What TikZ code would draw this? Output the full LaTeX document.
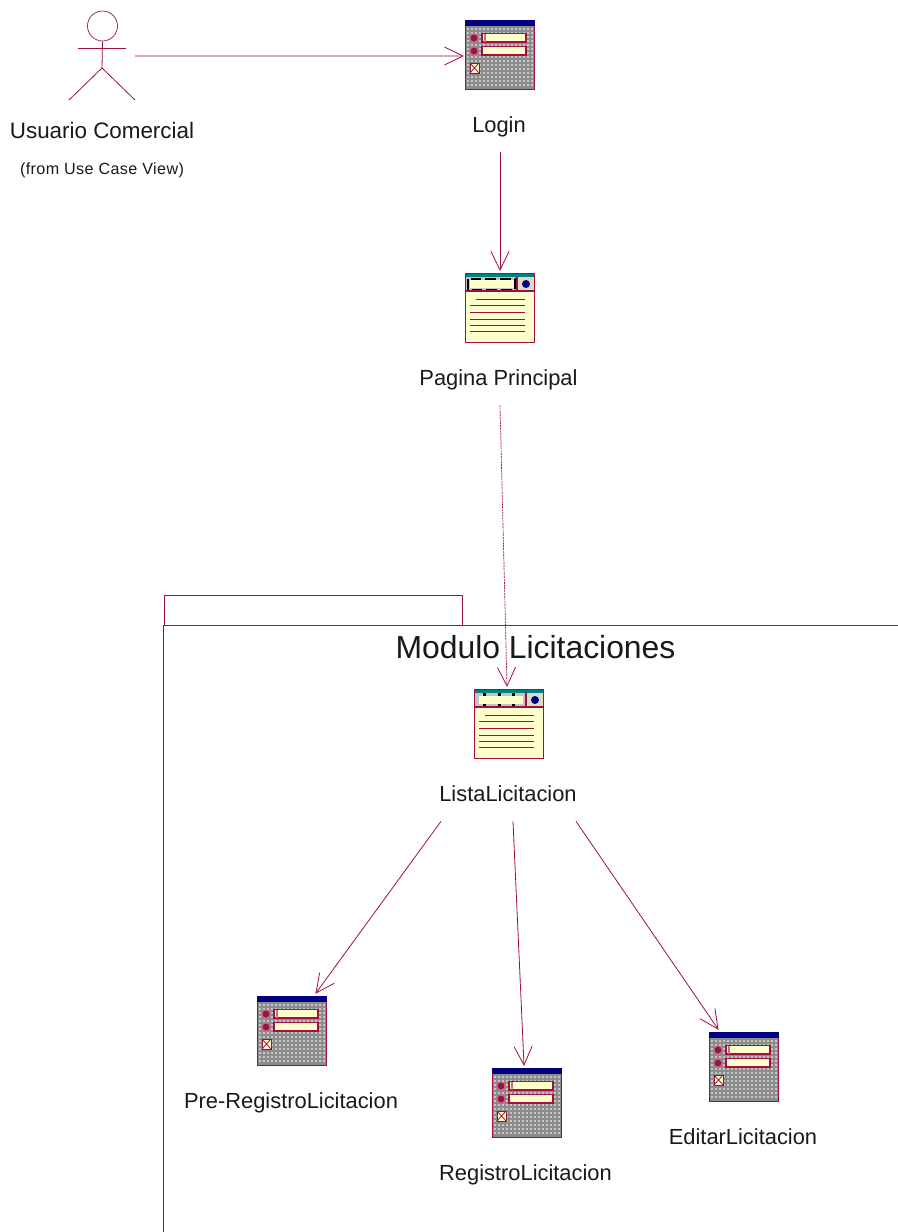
\documentclass[tikz,border=0pt]{standalone}
\usepackage{fontspec}
\setmainfont{Liberation Sans}
\newfontfamily\smallspaced[LetterSpace=2.5]{Liberation Sans}
\usetikzlibrary{arrows.meta}
\definecolor{rose}{HTML}{A00F3F}
\definecolor{cream}{HTML}{FFFFCC}
\definecolor{navyb}{HTML}{000080}
\definecolor{tealb}{HTML}{008080}
\definecolor{gridd}{HTML}{8C8C8C}
\definecolor{gridl}{HTML}{C6C6C6}
\definecolor{headg}{HTML}{C4C4C4}
\definecolor{ringc}{HTML}{C86A8A}
\pgfdeclarearrow{
  name=OpenVee,
  setup code={\pgfarrowssettipend{0pt}\pgfarrowssetlineend{-0.4pt}\pgfarrowssetvisualbackend{-14pt}\pgfarrowssetbackend{-14pt}\pgfarrowshullpoint{0pt}{0pt}\pgfarrowshullpoint{-14pt}{6.8pt}\pgfarrowshullpoint{-14pt}{-6.8pt}},
  drawing code={\pgfsetdash{}{0pt}\pgfsetlinewidth{0.6pt}\pgfsetmiterjoin\pgfpathmoveto{\pgfqpoint{-14pt}{6.8pt}}\pgfpathlineto{\pgfqpoint{0pt}{0pt}}\pgfpathlineto{\pgfqpoint{-14pt}{-6.8pt}}\pgfusepathqstroke},
}
\tikzset{
  x=0.75pt,y=-0.75pt,
  line/.style={draw=rose,line width=0.6pt},
  edge/.style={line,-OpenVee},
  lbl/.style={font=\fontsize{16.4}{20}\selectfont,text=black!90,inner sep=0pt,anchor=center},
  iconbox/.style={minimum width=52.5pt,minimum height=52.5pt,inner sep=0pt,outer sep=0pt,anchor=north west},
}
\newcommand{\formicon}[3]{%
  \node[iconbox] (#1) at (#2,#3) {};
  \begin{scope}[shift={(#2,#3)}]
    \fill[gridd] (0,0) rectangle (70,70);
    \foreach \i in {0,...,16}{\foreach \j in {2,...,16}{
      \fill[gridl] (2+4*\i,4*\j) rectangle ++(2.4,2.4);}}
    \fill[navyb] (0,0) rectangle (70,6);
    \draw[rose,line width=1pt] (0.4,6) -- (0.4,69.4) -- (69.6,69.4) -- (69.6,6);
    \foreach \yy in {18,31}{
      \fill[ringc] (9,\yy) circle (5);
      \fill[rose] (9,\yy) circle (3.4);
      \fill[black!75] (9,\yy) circle (1.3);}
    \draw[rose,fill=cream,line width=0.8pt] (17,13.5) rectangle (61,22);
    \draw[ringc,line width=0.8pt] (20,14) -- (20,22);
    \draw[rose,fill=cream,line width=0.8pt] (17,26.5) rectangle (61,35);
    \draw[rose,fill=cream,line width=0.7pt] (5,43) rectangle (14,53);
    \draw[rose,line width=0.6pt] (5,43) -- (14,53) (14,43) -- (5,53);
  \end{scope}}
% #4 header style 0: black dashed selected, 1: plain grey
\newcommand{\pageicon}[4]{%
  \node[iconbox] (#1) at (#2,#3) {};
  \begin{scope}[shift={(#2,#3)}]
    \fill[cream] (0,0) rectangle (70,70);
    \fill[headg] (0,3) rectangle (52,18);
    \fill[cream!40!headg] (52,3) rectangle (70,18);
    \fill[tealb] (0,1) rectangle (70,4);
    \fill[cream] (5,7) rectangle (49,15);
    \ifnum#4=0
      \draw[black,line width=1.5pt,dash pattern=on 8pt off 3pt] (3,6) rectangle (50,17);
    \else
      \foreach \xx in {9,24,38}{\fill[black] (\xx,4) rectangle ++(3,3);\fill[black] (\xx,15) rectangle ++(3,2);}
      \draw[black!70,line width=0.5pt] (1,17) -- (51,17);
    \fi
    \fill[navyb] (61,11) circle (4);
    \draw[rose,line width=1.2pt] (0.5,0.5) rectangle (69.5,69.5);
    \draw[rose,line width=0.9pt] (0,18) -- (70,18) (52,4) -- (52,18);
    \draw[rose,line width=0.6pt] (11,26) -- (60,26);
    \foreach \yy in {32,39,46,52,58}{\draw[rose,line width=0.6pt] (5,\yy) -- (60,\yy);}
  \end{scope}}
\begin{document}
\begin{tikzpicture}
\useasboundingbox (0,0) rectangle (898,1232);
\fill[white] (0,0) rectangle (898,1232);

% package
\draw[line] (164,625) -- (164,595) -- (462,595) -- (462,625);
\draw[line] (898,625) -- (163,625) -- (163,1232);
\node[lbl,font=\fontsize{23.9}{28}\selectfont] (modtitle) at (535.5,647) {Modulo Licitaciones};

% actor
\node[circle,draw=rose,line width=0.5pt,minimum size=22.5pt,inner sep=0pt] (head) at (102.5,26) {};
\coordinate (hip) at (102,68);
\draw[line] (head.south) -- (hip);
\draw[line] (78,48) -- (126,48);
\draw[line] (69,100) -- (hip) -- (135,100);
\node[lbl,font=\fontsize{16.8}{20}\selectfont] (actor) at (102,130.5) {Usuario Comercial};
\node[lbl,font=\smallspaced\fontsize{12.1}{15}\selectfont] (from) at (102,170.5) {(from Use Case View)};

% icons
\formicon{login}{465}{20}
\pageicon{principal}{465}{273}{0}
\pageicon{lista}{474}{689}{1}
\formicon{pre}{257}{996}
\formicon{registro}{492}{1068}
\formicon{editar}{709}{1032}

% labels
\node[lbl] (loginl) at (499,127) {Login};
\node[lbl] (principall) at (498.5,380) {Pagina Principal};
\node[lbl] (listal) at (508,794) {ListaLicitacion};
\node[lbl] (prel) at (291,1103) {Pre-RegistroLicitacion};
\node[lbl] (registrol) at (525.5,1175) {RegistroLicitacion};
\node[lbl] (editarl) at (743,1137) {EditarLicitacion};

% connectors
\draw[edge] (actor.north -| hip) ++(33,-66) coordinate (actorout) -- ([shift={(-2,36)}]login.north west);
\draw[edge] ([shift={(1,15)}]loginl.south) -- ([shift={(35,-3)}]principal.north west);
\draw[edge,line width=0.5pt,dash pattern=on 1.5pt off 0.6pt] ([shift={(1.5,15)}]principall.south) -- ([shift={(33,-3)}]lista.north west);
\draw[edge] ([shift={(-67,19)}]listal.south) -- ([shift={(59,-3)}]pre.north west);
\draw[edge] ([shift={(5,19)}]listal.south) -- ([shift={(32,-3)}]registro.north west);
\draw[edge] ([shift={(68,19)}]listal.south) -- ([shift={(9,-3)}]editar.north west);
\end{tikzpicture}
\end{document}
